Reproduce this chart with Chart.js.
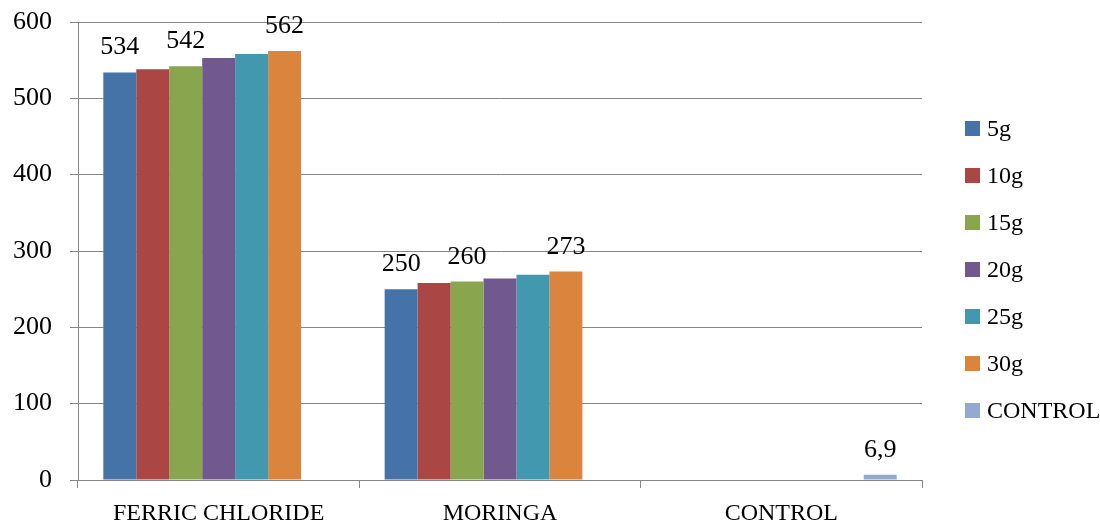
<!DOCTYPE html>
<html>
<head>
<meta charset="utf-8">
<script src="https://cdn.jsdelivr.net/npm/chart.js@4.4.1/dist/chart.umd.min.js"></script>
<style>
  html, body { margin: 0; padding: 0; background: #ffffff; }
  #wrap { width: 1100px; height: 524px; }
</style>
</head>
<body>
<div id="wrap"><canvas id="chart" width="1100" height="524"></canvas></div>
<script>
// Categories on the x axis
const categories = ['FERRIC CHLORIDE', 'MORINGA', 'CONTROL'];

// Series names (coagulant dose) and their values per category
const seriesNames = ['5g', '10g', '15g', '20g', '25g', '30g', 'CONTROL'];
const dose5g  = [534, 250, null];
const dose10g = [538, 258, null];
const dose15g = [542, 260, null];
const dose20g = [553, 264, null];
const dose25g = [558, 269, null];
const dose30g = [562, 273, null];
const controlValues = [null, null, 6.9];

// Y axis tick values
const yTicks = [0, 100, 200, 300, 400, 500, 600];

// Bars that carry a printed value: [series index, category index]
const labelledBars = [[0, 0], [2, 0], [5, 0], [0, 1], [2, 1], [5, 1], [6, 2]];

const seriesValues = [dose5g, dose10g, dose15g, dose20g, dose25g, dose30g, controlValues];
const seriesColors = ['#4572A7', '#AA4643', '#89A54E', '#71588F', '#4198AF', '#DB843D', '#93A9CF'];

const FONT = 'Liberation Serif';
const GRID = '#868686';

const valueLabels = {
  id: 'valueLabels',
  afterDatasetsDraw(chart) {
    const ctx = chart.ctx;
    ctx.save();
    ctx.font = '26px "' + FONT + '"';
    ctx.fillStyle = '#000000';
    ctx.textAlign = 'center';
    ctx.textBaseline = 'alphabetic';
    labelledBars.forEach(([ds, idx]) => {
      const el = chart.getDatasetMeta(ds).data[idx];
      const v = chart.data.datasets[ds].data[idx];
      if (!el || v == null) return;
      ctx.fillText(String(v).replace('.', ','), el.x, el.y - 18);
    });
    ctx.restore();
  }
};

const sideLegend = {
  id: 'sideLegend',
  afterDraw(chart) {
    const ctx = chart.ctx;
    ctx.save();
    ctx.font = '24px "' + FONT + '"';
    ctx.textAlign = 'left';
    ctx.textBaseline = 'alphabetic';
    chart.data.datasets.forEach((ds, i) => {
      const yc = 128 + i * 47;
      ctx.fillStyle = ds.backgroundColor;
      ctx.fillRect(965, yc - 7, 15, 15);
      ctx.fillStyle = '#000000';
      ctx.fillText(ds.label, 987, yc + 8);
    });
    ctx.restore();
  }
};

new Chart(document.getElementById('chart'), {
  type: 'bar',
  data: {
    labels: categories,
    datasets: seriesNames.map((name, i) => ({
      label: name,
      data: seriesValues[i],
      backgroundColor: seriesColors[i],
      borderWidth: 0,
      barPercentage: 1.0,
      categoryPercentage: 0.82
    }))
  },
  options: {
    responsive: false,
    animation: false,
    devicePixelRatio: 1,
    layout: { padding: { left: 0, top: 22, right: 178, bottom: 0 } },
    plugins: {
      legend: { display: false },
      tooltip: { enabled: false }
    },
    scales: {
      x: {
        afterFit(scale) {
          scale.height = 44;
          scale.paddingLeft = 0;
          scale.paddingRight = 0;
        },
        grid: {
          offset: true,
          drawOnChartArea: false,
          drawTicks: true,
          tickLength: 8,
          color: GRID,
          lineWidth: 1
        },
        border: { color: GRID, width: 1 },
        ticks: {
          color: '#000000',
          font: { family: FONT, size: 24 },
          padding: 11,
          maxRotation: 0
        }
      },
      y: {
        min: 0,
        max: 600,
        afterFit(scale) {
          scale.width = 78;
          scale.paddingTop = 0;
          scale.paddingBottom = 0;
        },
        afterBuildTicks(scale) { scale.ticks = yTicks.map(v => ({ value: v })); },
        grid: {
          color: GRID,
          lineWidth: 1,
          tickLength: 8
        },
        border: { color: GRID, width: 1 },
        ticks: {
          color: '#000000',
          font: { family: FONT, size: 26 },
          padding: 18
        }
      }
    }
  },
  plugins: [valueLabels, sideLegend]
});
</script>
</body>
</html>
